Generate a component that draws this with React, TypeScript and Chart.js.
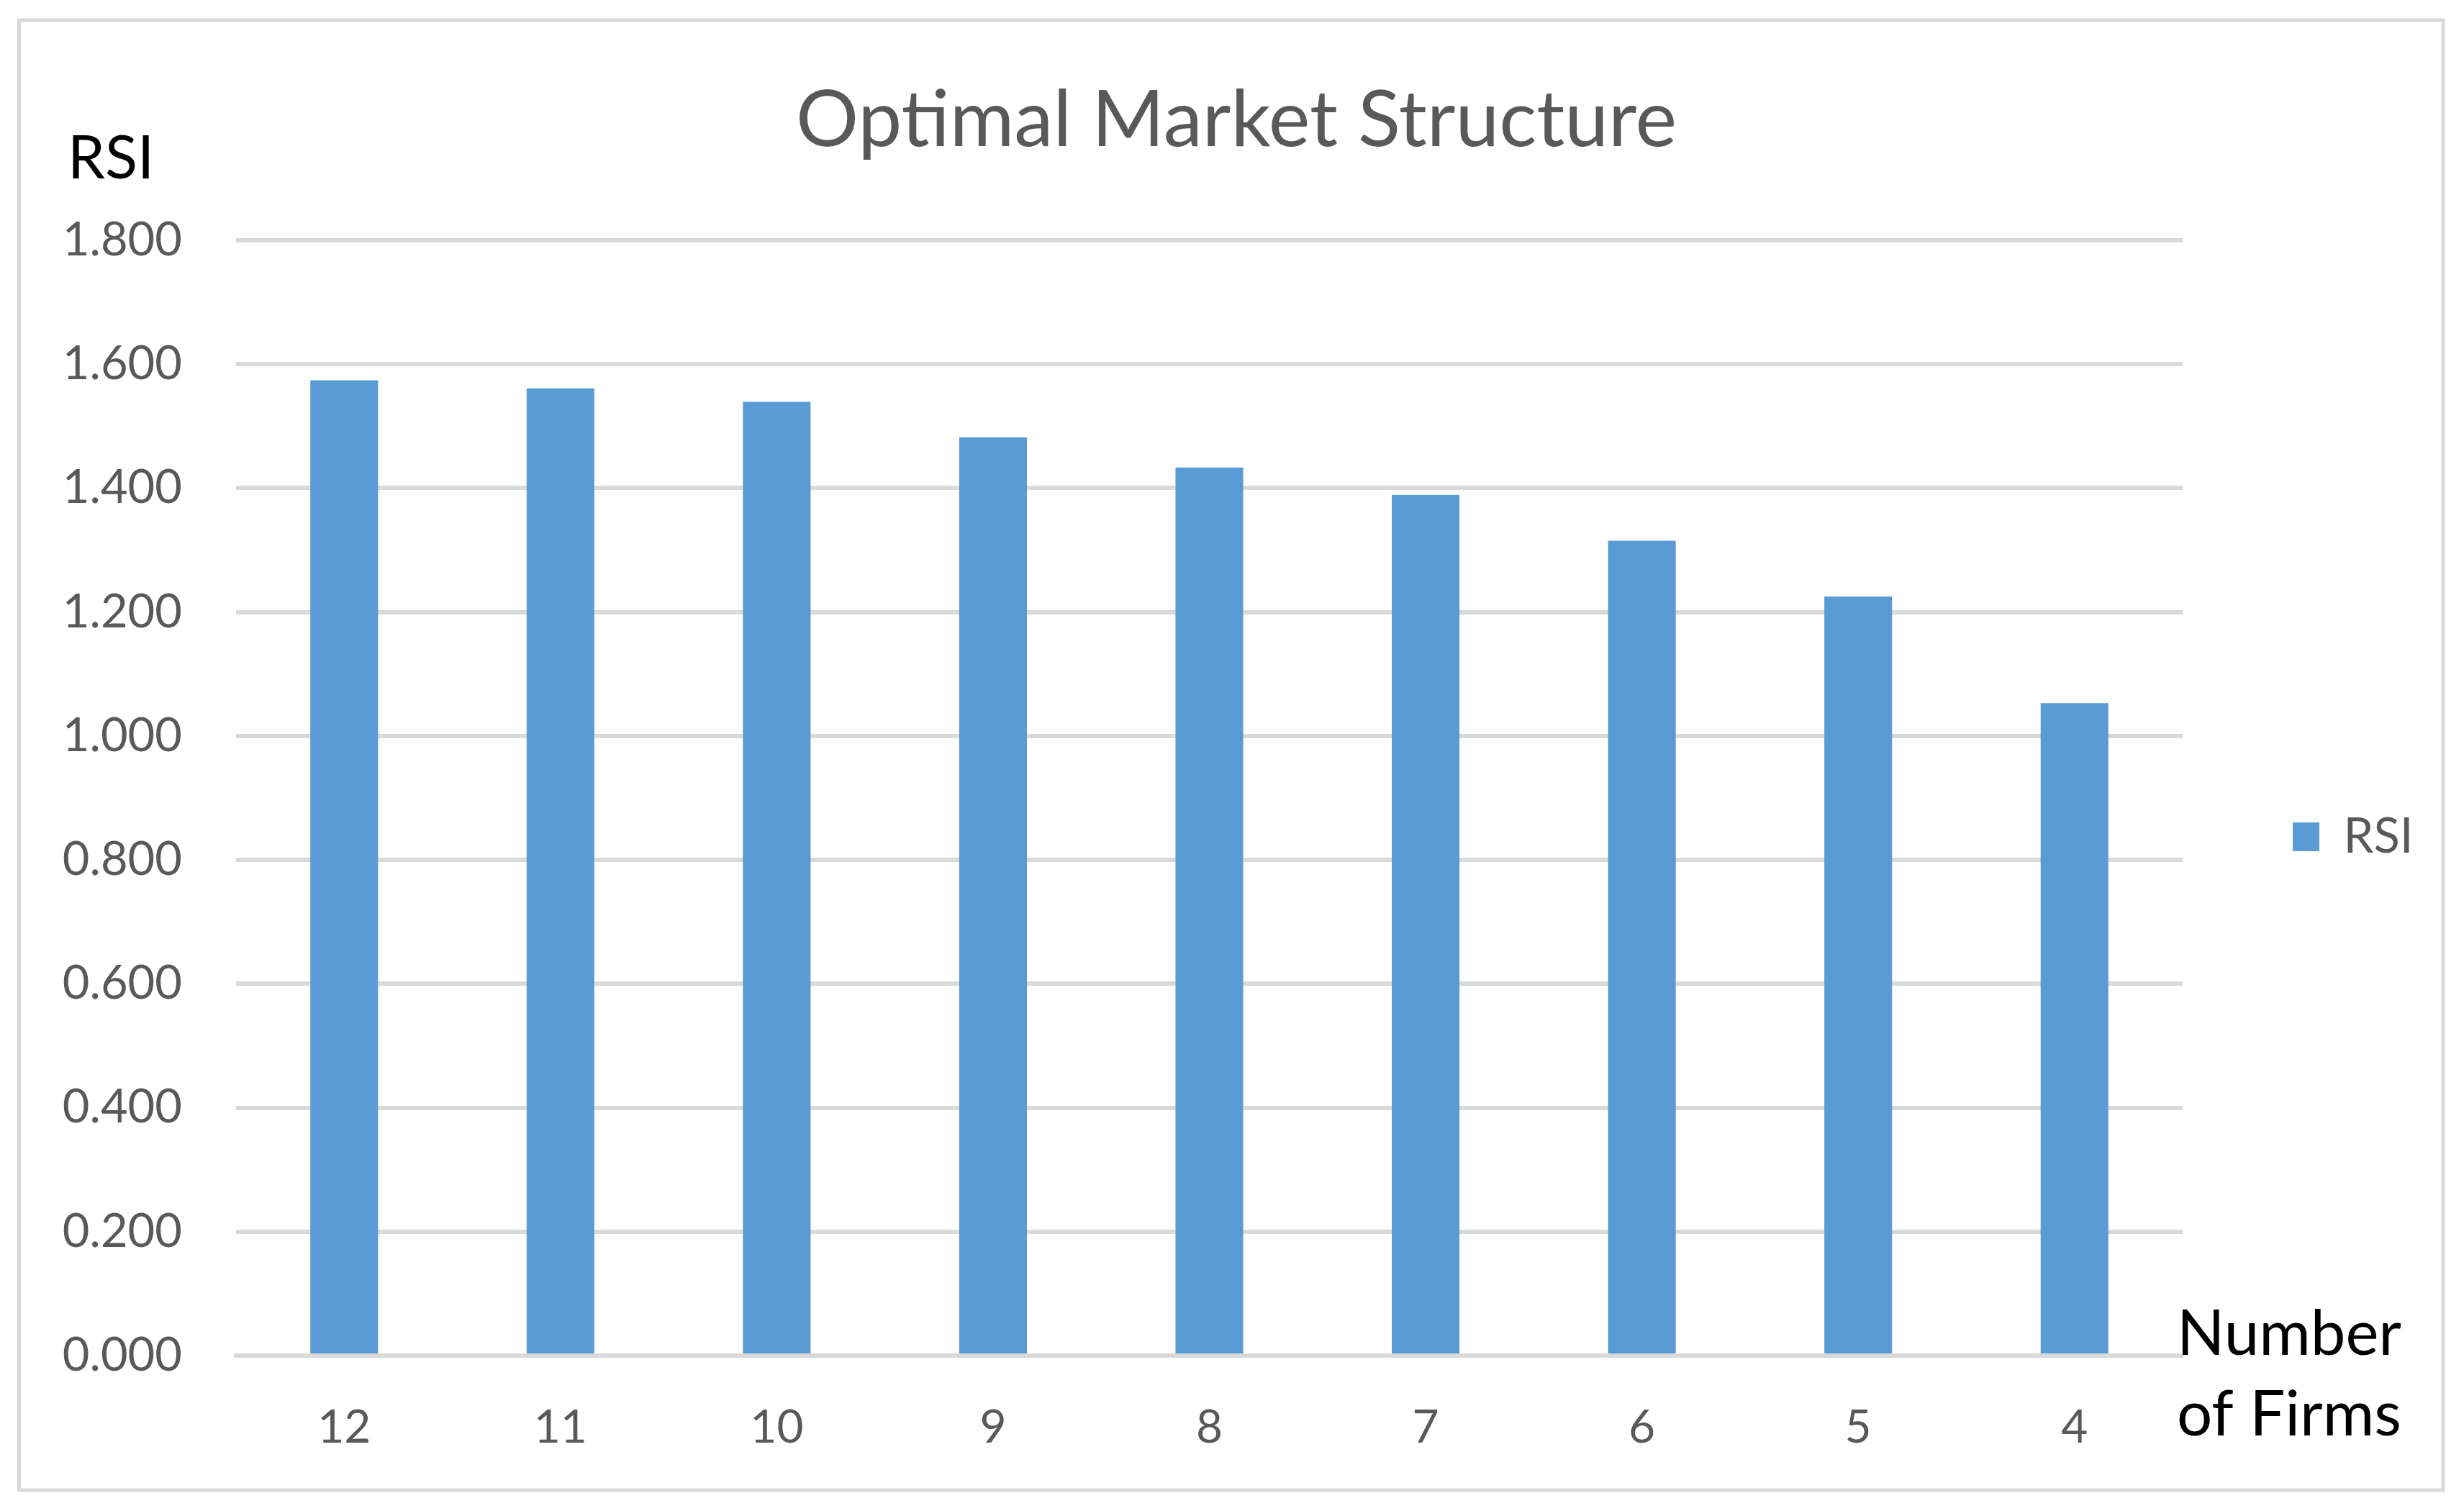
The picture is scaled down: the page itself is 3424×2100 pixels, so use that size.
import React, { useEffect, useRef } from "react";
import { Chart, registerables } from "chart.js";

Chart.register(...registerables);

const categories = ["12", "11", "10", "9", "8", "7", "6", "5", "4"];
const rsiValues = [1.574, 1.561, 1.539, 1.482, 1.433, 1.389, 1.315, 1.225, 1.053];
const seriesName = "RSI";
const titleText = "Optimal Market Structure";
const yAxisLabel = "RSI";
const xAxisLabelLines = ["Number", "of Firms"];
const yMin = 0;
const yMax = 1.8;
const yStep = 0.2;

const FONT = "Lato";
const W = 3424;
const H = 2100;

export default function App() {
  const ref = useRef<HTMLCanvasElement | null>(null);

  useEffect(() => {
    const canvas = ref.current;
    if (!canvas) return;

    const legendFontSize = 67;
    const legendBoxW = 37;
    const legendPad = 153;
    const mctx = document.createElement("canvas").getContext("2d")!;
    mctx.font = `${legendFontSize}px ${FONT}`;
    const tw = mctx.measureText(seriesName).width;
    const legendWidth = legendPad + legendBoxW + legendFontSize / 2 + tw + 10;
    const chartLeft = 328;
    const chartRight = 3033;
    const padRight = Math.max(0, W - chartRight - legendWidth);
    const titleCenter = 1718;
    const padLeft = Math.max(0, 2 * titleCenter - W + padRight);

    const decor = {
      id: "decor",
      beforeDraw(chart: any) {
        const c = chart.ctx;
        c.save();
        c.fillStyle = "#ffffff";
        c.fillRect(0, 0, W, H);
        c.strokeStyle = "#d9d9d9";
        c.lineWidth = 5;
        c.strokeRect(26.5, 28, 3395 - 26.5, 2071 - 28);
        c.restore();
      },
      afterDraw(chart: any) {
        const c = chart.ctx;
        c.save();
        c.fillStyle = "#000000";
        c.textAlign = "left";
        c.textBaseline = "alphabetic";
        c.font = `83px ${FONT}`;
        c.fillText(yAxisLabel, 94, 248);
        c.font = `87px ${FONT}`;
        c.fillText(xAxisLabelLines[0], 3025, 1883);
        c.fillText(xAxisLabelLines[1], 3025, 1995);
        c.restore();
      },
    };

    const chart = new Chart(canvas, {
      type: "bar",
      data: {
        labels: categories,
        datasets: [
          {
            label: seriesName,
            data: rsiValues,
            backgroundColor: "#5b9bd5",
            borderWidth: 0,
            categoryPercentage: 1,
            barPercentage: 0.313,
          },
        ],
      },
      options: {
        responsive: false,
        animation: false,
        devicePixelRatio: 1,
        layout: { padding: { left: padLeft, top: 0, bottom: 0, right: padRight } },
        plugins: {
          title: {
            display: true,
            text: titleText,
            color: "#595959",
            font: { family: FONT, size: 109, weight: "normal" },
            padding: { top: 102, bottom: 101 },
          },
          legend: {
            display: true,
            position: "right",
            fullSize: false,
            align: "center",
            title: {
              display: true,
              text: " ",
              font: { family: FONT, size: 10 },
              padding: { top: 96, bottom: 0 },
            },
            labels: {
              boxWidth: legendBoxW,
              boxHeight: 40,
              padding: legendPad,
              color: "#595959",
              font: { family: FONT, size: legendFontSize },
            },
          },
          tooltip: { enabled: false },
        },
        scales: {
          x: {
            grid: { display: false, drawTicks: false },
            border: { display: true, color: "#d9d9d9", width: 6 },
            ticks: {
              color: "#595959",
              font: { family: FONT, size: 64 },
              padding: 62,
              maxRotation: 0,
            },
            afterFit(scale: any) {
              scale.height = H - 1884;
            },
          },
          y: {
            min: yMin,
            max: yMax,
            grid: { color: "#d9d9d9", lineWidth: 6, drawTicks: false },
            border: { display: false },
            ticks: {
              stepSize: yStep,
              color: "#595959",
              font: { family: FONT, size: 65 },
              padding: 75,
              callback: (v: any) => Number(v).toFixed(3),
            },
            afterFit(scale: any) {
              scale.width = chartLeft - padLeft;
            },
          },
        },
      },
      plugins: [decor],
    });

    return () => chart.destroy();
  }, []);

  return (
    <div style={{ position: "absolute", left: 0, top: 0, width: W, height: H }}>
      <canvas ref={ref} width={W} height={H} style={{ width: W, height: H, display: "block" }} />
    </div>
  );
}
